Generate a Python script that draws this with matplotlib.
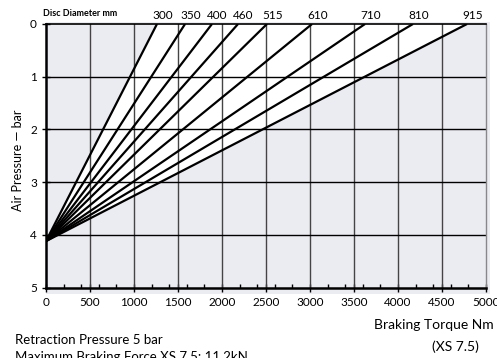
import matplotlib.pyplot as plt
from matplotlib.ticker import MultipleLocator
from matplotlib.patches import Rectangle

# disc diameters (mm) and the torque (Nm) each line reaches at 0 bar
diameters = ["300", "350", "400", "460", "515", "610", "710", "810", "915"]
torque_at_zero = [1261, 1580, 1886, 2182, 2511, 3023, 3625, 4170, 4784]
# all lines start from the retraction point
origin_torque = 0
origin_pressure = 4.12

x_ticks = [0, 500, 1000, 1500, 2000, 2500, 3000, 3500, 4000, 4500, 5000]
y_ticks = [0, 1, 2, 3, 4, 5]

main_font = ["Lato", "DejaVu Sans"]
bg = "#ebebf2"

W, H = 497, 358
fig = plt.figure(figsize=(W / 100, H / 100), dpi=100)
ax = fig.add_axes([46 / W, 1 - 287.5 / H, 440 / W, 263.5 / H])
ax.patch.set_visible(False)

# grey panel slightly larger than the axes
fig.patches.append(Rectangle((46 / W, 1 - 294 / H), 444 / W, 272 / H,
                             transform=fig.transFigure, facecolor=bg,
                             edgecolor="none", zorder=-5))

# white wedge between the smallest and largest disc
ax.fill([origin_torque, torque_at_zero[0], torque_at_zero[-1]],
        [origin_pressure, 0, 0], color="white", zorder=1, lw=0)

for t in x_ticks[1:-1]:
    ax.axvline(t, color="#444444", lw=1, zorder=2)
for p in y_ticks[1:-1]:
    ax.axhline(p, color="black", lw=1, zorder=2)

for d, t in zip(diameters, torque_at_zero):
    ax.plot([origin_torque, t], [origin_pressure, 0], color="black", lw=1.6,
            zorder=3, solid_capstyle="butt")
    ax.annotate(d, (t, 0), xytext=(4, 2), textcoords="offset points",
                ha="center", va="bottom", fontsize=8.5, family=main_font,
                annotation_clip=False)

ax.set_xlim(0, 5000)
ax.set_ylim(5, 0)
ax.set_xticks(x_ticks)
ax.set_yticks(y_ticks)
ax.xaxis.set_minor_locator(MultipleLocator(200))
ax.tick_params(axis="both", which="major", direction="inout", length=6,
               width=1, labelsize=8.5, colors="black")
ax.tick_params(axis="x", which="minor", direction="in", length=3, width=1)
for lab in ax.get_xticklabels() + ax.get_yticklabels():
    lab.set_family(main_font)

ax.spines["left"].set_linewidth(1.8)
ax.spines["bottom"].set_linewidth(1.8)
ax.spines["top"].set_linewidth(1.2)
ax.spines["right"].set_color("#888888")
ax.spines["right"].set_linewidth(1)

fig.text(18 / W, 1 - 160 / H, "Air Pressure — bar", rotation=90,
         ha="center", va="center", fontsize=9, family=main_font)
fig.text(43 / W, 1 - 14 / H, "Disc Diameter mm", ha="left", va="center",
         fontsize=6.5, family=main_font, weight="bold")
fig.text(494 / W, 1 - 325 / H, "Braking Torque Nm", ha="right", va="center",
         fontsize=10, family=main_font)
fig.text(455 / W, 1 - 347 / H, "(XS 7.5)", ha="center", va="center",
         fontsize=10, family=main_font)
fig.text(15 / W, 1 - 340 / H, "Retraction Pressure 5 bar", ha="left",
         va="center", fontsize=9.5, family=main_font)
fig.text(15 / W, 1 - 351 / H, "Maximum Braking Force XS 7.5: 11.2kN",
         ha="left", va="top", fontsize=9.5, family=main_font)

fig.savefig("out.png", dpi=100)
